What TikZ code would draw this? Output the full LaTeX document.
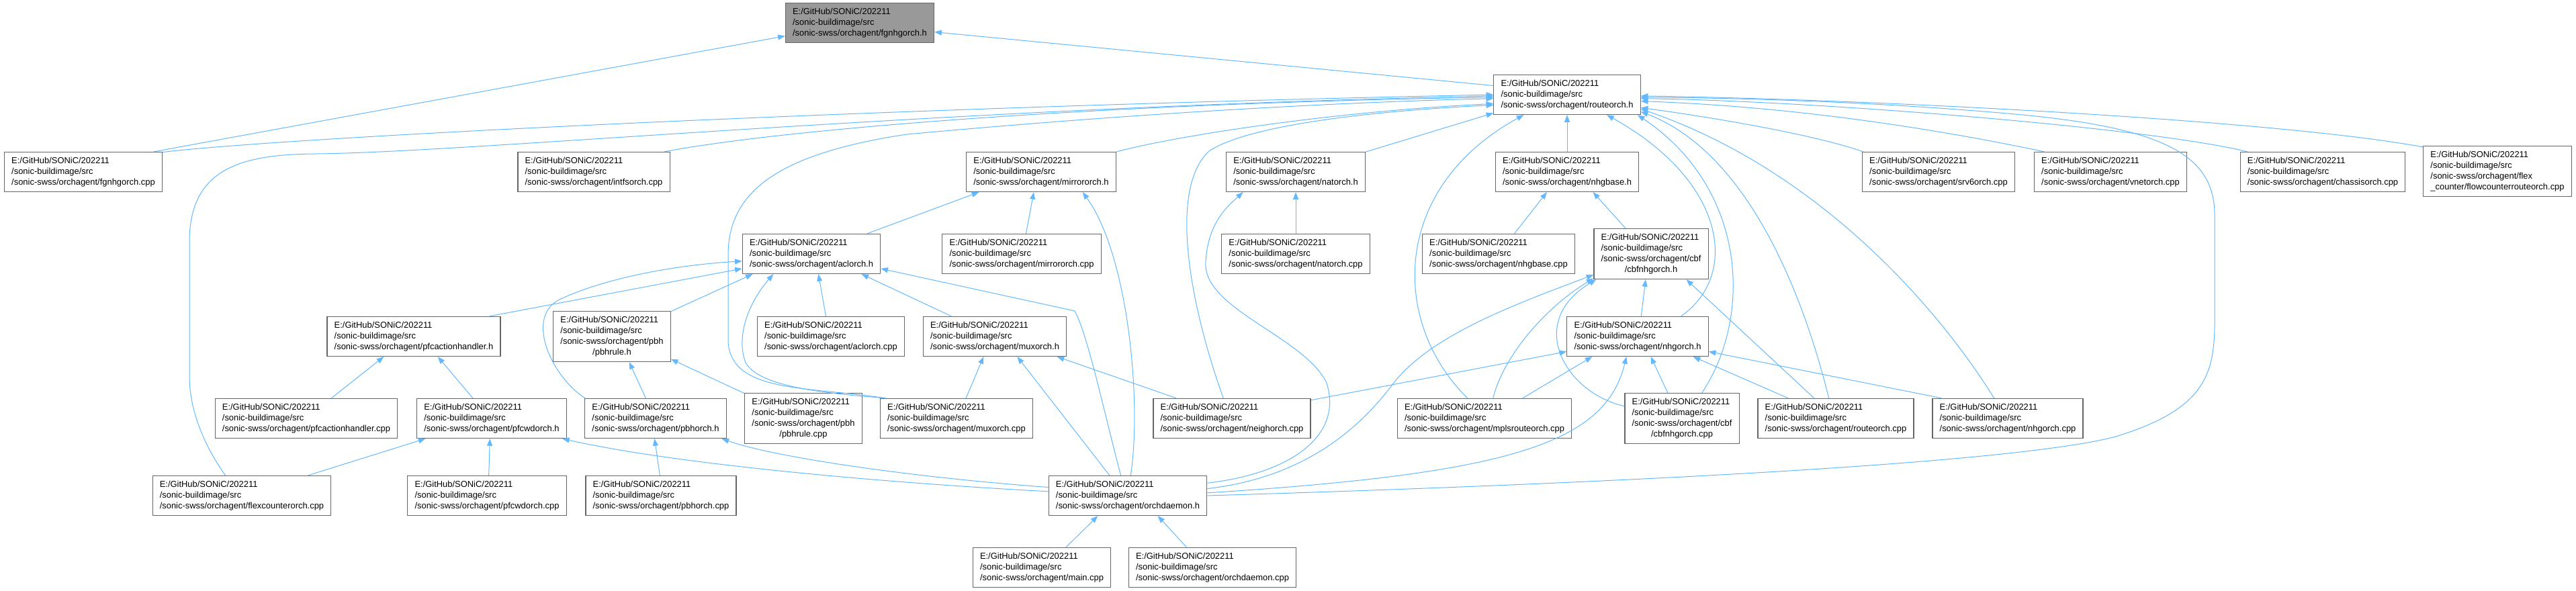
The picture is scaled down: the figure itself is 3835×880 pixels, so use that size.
\documentclass[tikz,border=0pt]{standalone}
\usepackage{fontspec}
\setmainfont{Liberation Sans}
\usepackage{xcolor}
\usepackage{tikz}
\usetikzlibrary{arrows.meta}
\definecolor{edgeblue}{HTML}{63B8FF}
\definecolor{boxgray}{HTML}{666666}
\definecolor{curgray}{HTML}{999999}
\newcommand{\orch}[1]{E:/GitHub/SONiC/202211\\/sonic-buildimage/src\\/sonic-swss/orchagent/#1}

\begin{document}
\begin{tikzpicture}[
  x=0.75pt, y=-0.75pt,
  font=\fontsize{9.7}{12}\selectfont,
  file/.style={draw=boxgray, fill=white, line width=0.9pt, align=left, inner xsep=8pt, inner ysep=2pt, minimum height=44.25pt},
  tall/.style={file, minimum height=56.25pt},
  cur/.style={file, fill=curgray},
  dep/.style={-{Triangle[length=8pt,width=6pt]}, draw=edgeblue, line width=0.75pt}
]
\useasboundingbox (0,0) rectangle (3835,880);
% top rows
\node[cur] (fgh) at (1280,34) {\orch{fgnhgorch.h}};
\node[file] (rth) at (2333,141) {\orch{routeorch.h}};
\node[file] (fgcpp) at (124,256) {\orch{fgnhgorch.cpp}};
\node[file] (intfs) at (884,256) {\orch{intfsorch.cpp}};
\node[file] (mirh) at (1550,256) {\orch{mirrororch.h}};
\node[file] (nath) at (1929,256) {\orch{natorch.h}};
\node[file] (nhgbh) at (2333,256) {\orch{nhgbase.h}};
\node[file] (srv6) at (2886,256) {\orch{srv6orch.cpp}};
\node[file] (vnet) at (3142,256) {\orch{vnetorch.cpp}};
\node[file] (chassis) at (3458,256) {\orch{chassisorch.cpp}};
\node[tall] (flowc) at (3718,255) {\orch{flex\\\_counter/flowcounterrouteorch.cpp}};
\node[file] (aclh) at (1208,378) {\orch{aclorch.h}};
\node[file] (mircpp) at (1521,378) {\orch{mirrororch.cpp}};
\node[file] (natcpp) at (1929,378) {\orch{natorch.cpp}};
\node[file] (nhgbcpp) at (2231,378) {\orch{nhgbase.cpp}};
\node[tall] (cbfh) at (2458,378) {\orch{cbf\\\hfil/cbfnhgorch.h}};
% middle rows
\node[file] (pfcah) at (616,501) {\orch{pfcactionhandler.h}};
\node[tall] (pbhruleh) at (911,501) {\orch{pbh\\\hfil/pbhrule.h}};
\node[file] (aclcpp) at (1237,501) {\orch{aclorch.cpp}};
\node[file] (muxh) at (1481,501) {\orch{muxorch.h}};
\node[file] (nhgh) at (2438,501) {\orch{nhgorch.h}};
\node[file] (pfcacpp) at (456,623) {\orch{pfcactionhandler.cpp}};
\node[file] (pfcwdh) at (732,623) {\orch{pfcwdorch.h}};
\node[file] (pbhh) at (976,623) {\orch{pbhorch.h}};
\node[tall] (pbhrulecpp) at (1196,623) {\orch{pbh\\\hfil/pbhrule.cpp}};
\node[file] (muxcpp) at (1424,623) {\orch{muxorch.cpp}};
\node[file] (neighcpp) at (1834,623) {\orch{neighorch.cpp}};
\node[file] (mplscpp) at (2210,623) {\orch{mplsrouteorch.cpp}};
\node[tall] (cbfcpp) at (2504,623) {\orch{cbf\\\hfil/cbfnhgorch.cpp}};
\node[file] (rtcpp) at (2733,623) {\orch{routeorch.cpp}};
\node[file] (nhgcpp) at (2989,623) {\orch{nhgorch.cpp}};
% bottom rows
\node[file] (flexcpp) at (360,738) {\orch{flexcounterorch.cpp}};
\node[file] (pfcwdcpp) at (725,738) {\orch{pfcwdorch.cpp}};
\node[file] (pbhcpp) at (984,738) {\orch{pbhorch.cpp}};
\node[file] (odh) at (1679,738) {\orch{orchdaemon.h}};
\node[file] (maincpp) at (1551,845) {\orch{main.cpp}};
\node[file] (odcpp) at (1805,845) {\orch{orchdaemon.cpp}};
% into fgnhgorch.h and routeorch.h
\draw[dep] (fgcpp.16) -- (fgh.190);
\draw[dep] (rth.173) -- (fgh.353);
\draw[dep] (fgcpp.14) .. controls (420,205) and (1300,160) .. (rth.180);
\draw[dep] (intfs.16) .. controls (1150,195) and (1600,155) .. (rth.182);
\draw[dep] (flexcpp.129) .. controls (312,675) and (282,620) .. (282,560) -- (282,360) .. controls (282,250) and (360,230) .. (470,229) .. controls (700,227) and (1400,160) .. (rth.181);
\draw[dep] (muxcpp.164) .. controls (1200,575) and (1090,585) .. (1084,510) -- (1084,380) .. controls (1084,290) and (1150,230) .. (1350,200) .. controls (1700,168) and (2000,152) .. (rth.183);
\draw[dep] (mirh.15) .. controls (1760,200) and (2000,165) .. (rth.187);
\draw[dep] (neighcpp.113) .. controls (1770,450) and (1740,280) .. (1800,225) .. controls (1860,185) and (2050,165) .. (rth.188);
\draw[dep] (nath.16) -- (rth.194);
\draw[dep] (mplscpp.130) .. controls (2070,480) and (2070,280) .. (rth.205);
\draw[dep] (nhgbh.north) -- (rth.south);
\draw[dep] (nhgh.25) .. controls (2590,410) and (2570,270) .. (rth.333);
\draw[dep] (cbfcpp.52) .. controls (2610,470) and (2600,280) .. (rth.344);
\draw[dep] (rtcpp.109) .. controls (2690,460) and (2610,230) .. (rth.347);
\draw[dep] (nhgcpp.124) .. controls (2880,450) and (2700,250) .. (rth.349);
\draw[dep] (srv6.165) .. controls (2700,200) and (2550,175) .. (rth.350);
\draw[dep] (vnet.163) .. controls (2920,200) and (2700,160) .. (rth.355);
\draw[dep] (chassis.165) .. controls (3200,190) and (2700,150) .. (rth.357);
\draw[dep] (flowc.162) .. controls (3400,180) and (2800,148) .. (rth.359);
\draw[dep] (odh.0) .. controls (2400,720) and (3000,690) .. (3150,650) .. controls (3280,610) and (3297,560) .. (3297,480) -- (3297,320) .. controls (3297,230) and (3220,190) .. (3000,170) .. controls (2800,152) and (2600,146) .. (rth.358);
% second level headers
\draw[dep] (aclh.20) -- (mirh.198);
\draw[dep] (mircpp.78) -- (mirh.250);
\draw[dep] (odh.82) .. controls (1700,600) and (1680,380) .. (mirh.334);
\draw[dep] (natcpp.north) -- (nath.south);
\draw[dep] (odh.9) .. controls (1920,705) and (2000,650) .. (1975,570) .. controls (1940,500) and (1790,460) .. (1795,390) .. controls (1798,330) and (1830,305) .. (nath.201);
\draw[dep] (nhgbcpp.52) -- (nhgbh.225);
\draw[dep] (cbfh.135) -- (nhgbh.322);
\draw[dep] (pfcah.15) -- (aclh.192);
\draw[dep] (pbhh.164) .. controls (820,560) and (780,470) .. (835,445) .. controls (900,415) and (1000,395) .. (aclh.186);
\draw[dep] (pbhruleh.23) -- (aclh.199);
\draw[dep] (muxcpp.164) .. controls (1220,585) and (1130,575) .. (1110,540) .. controls (1095,500) and (1115,450) .. (aclh.208);
\draw[dep] (aclcpp.104) -- (aclh.289);
\draw[dep] (muxh.155) -- (aclh.338);
\draw[dep] (odh.109) .. controls (1645,620) and (1620,500) .. (1600,463) -- (aclh.348);
\draw[dep] (nhgh.80) -- (cbfh.258);
\draw[dep] (odh.5) .. controls (1950,710) and (2030,630) .. (2075,570) .. controls (2130,500) and (2250,455) .. (cbfh.200);
\draw[dep] (mplscpp.67) .. controls (2235,540) and (2290,465) .. (cbfh.203);
\draw[dep] (cbfcpp.168) .. controls (2330,585) and (2270,480) .. (cbfh.205);
\draw[dep] (rtcpp.137) -- (cbfh.324);
% third level headers
\draw[dep] (pfcacpp.39) -- (pfcah.214);
\draw[dep] (pfcwdh.133) -- (pfcah.320);
\draw[dep] (pbhh.116) -- (pbhruleh.304);
\draw[dep] (pbhrulecpp.157) -- (pbhruleh.339);
\draw[dep] (muxcpp.65) -- (muxh.241);
\draw[dep] (odh.132) -- (muxh.318);
\draw[dep] (neighcpp.160) -- (muxh.342);
\draw[dep] (neighcpp.13) -- (nhgh.192);
\draw[dep] (mplscpp.28) -- (nhgh.204);
\draw[dep] (odh.2) .. controls (2250,705) and (2390,660) .. (nhgh.241);
\draw[dep] (cbfcpp.119) -- (nhgh.303);
\draw[dep] (rtcpp.157) -- (nhgh.340);
\draw[dep] (nhgcpp.163) -- (nhgh.348);
\draw[dep] (flexcpp.17) -- (pfcwdh.197);
\draw[dep] (pfcwdcpp.85) -- (pfcwdh.265);
\draw[dep] (odh.177) .. controls (1300,718) and (1000,690) .. (pfcwdh.344);
\draw[dep] (pbhcpp.93) -- (pbhh.267);
\draw[dep] (odh.174) .. controls (1350,710) and (1150,680) .. (pbhh.343);
\draw[dep] (maincpp.40) -- (odh.214);
\draw[dep] (odcpp.142) -- (odh.326);
\end{tikzpicture}
\end{document}
